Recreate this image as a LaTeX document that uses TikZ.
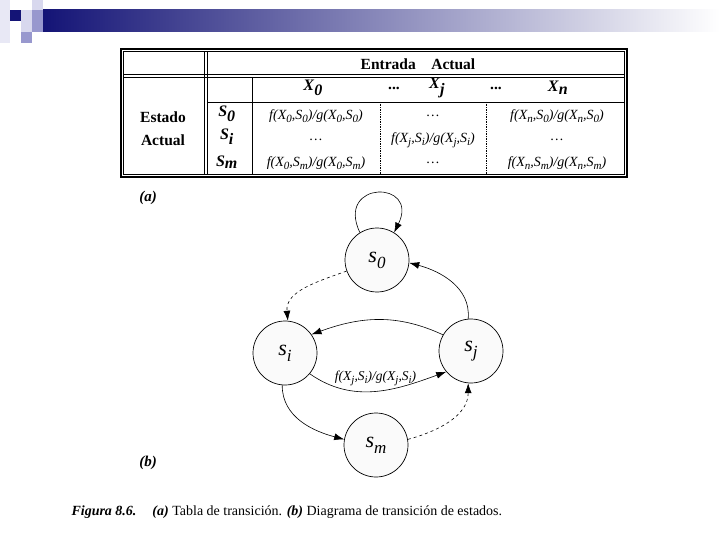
\documentclass[tikz,border=0pt]{standalone}
\usepackage{fontspec}
\setmainfont{Liberation Serif}
\usetikzlibrary{arrows.meta}
\definecolor{slnavy}{RGB}{20,20,118}
\definecolor{sllight}{RGB}{216,216,238}
\definecolor{slmid}{RGB}{152,152,206}
\newcommand{\ssub}[2]{\textit{#1}\raisebox{-6pt}{\fontsize{17}{17}\selectfont\textit{#2}}}
\newcommand{\bsub}[2]{\textbf{\textit{#1}}$_{\textbf{\textit{#2}}}$}
\newcommand{\entsub}[1]{\raisebox{-2.6pt}{\fontsize{11}{11}\selectfont #1}}

\tikzset{
  state/.style={circle, draw, line width=0.7pt, fill=gray!4, minimum size=64pt,
    inner sep=0pt, font=\fontsize{22}{24}\selectfont},
  trans/.style={-{Latex[length=10pt,width=7pt]}, line width=0.6pt},
  hdr/.style={font=\fontsize{15.5}{17}\selectfont\bfseries},
  xhdr/.style={font=\fontsize{16}{17}\selectfont},
  entry/.style={font=\fontsize{14}{15}\selectfont\itshape},
  tabline/.style={line width=0.7pt},
  frame/.style={line width=0.8pt},
}

\begin{document}
\begin{tikzpicture}[x=1pt,y=1pt]
      \fill[white] (0,0) rectangle (720,-540);
      \useasboundingbox (0,0) rectangle (720,-540);
      % slide decoration
      \shade[left color=slnavy, right color=white] (43,-10) rectangle (720,-32);
      \fill[sllight!60] (0,0) rectangle (10,-43);
      \fill[slnavy] (10,-10) rectangle (21,-21);
      \fill[sllight] (21,-10) rectangle (32,-21);
      \fill[sllight] (32,0) rectangle (43,-10);
      \fill[slmid] (32,-10) rectangle (43,-21);
      \fill[sllight] (21,-21) rectangle (32,-32);
      \fill[slmid] (32,-21) rectangle (43,-32);
      \fill[slmid] (21,-32) rectangle (32,-43);
      % (a) transition table
      \draw[frame, line width=1.2pt] (121,-49) -- (627,-49) -- (627,-177) -- (121,-177) -- cycle;
      \draw[frame] (123.5,-51.5) -- (624.5,-51.5) -- (624.5,-174.5) -- (123.5,-174.5) -- cycle;
      \draw[frame] (123.5,-74.5) -- (624.5,-74.5);
      \draw[frame] (123.5,-77) -- (624.5,-77);
      \draw[frame] (204.5,-51.5) -- (204.5,-174.5);
      \draw[frame] (207,-51.5) -- (207,-174.5);
      \draw[tabline] (252,-77) -- (252,-174.5);
      \draw[tabline] (207,-102) -- (624.5,-102);
      \draw[tabline, densely dotted] (380,-102) -- (380,-174.5);
      \draw[tabline, densely dotted] (486,-102) -- (486,-174.5);
      \node[hdr] (entrada) at (418,-64) {Entrada\quad Actual};
      \node[hdr] (estado) at (163,-117) {Estado};
      \node[hdr] (actual) at (163,-140) {Actual};
      \node[xhdr] (x0) at (313,-88) {\bsub{X}{0}};
      \node[hdr] (dots1) at (394,-88) {...};
      \node[xhdr] (xj) at (437,-88) {\bsub{X}{j}};
      \node[hdr] (dots2) at (496,-88) {...};
      \node[xhdr] (xn) at (558,-88) {\bsub{X}{n}};
      \node[xhdr] (r0) at (227,-114) {\bsub{S}{0}};
      \node[xhdr] (ri) at (227,-137) {\bsub{S}{i}};
      \node[xhdr] (rm) at (227,-162) {\bsub{S}{m}};
      \node[entry] (c00) at (316,-116) {f(X\entsub{0},S\entsub{0})/g(X\entsub{0},S\entsub{0})};
      \node[entry] (c01) at (433,-116) {\dots};
      \node[entry] (c02) at (557,-116) {f(X\entsub{n},S\entsub{0})/g(X\entsub{n},S\entsub{0})};
      \node[entry] (c10) at (316,-140) {\dots};
      \node[entry] (c11) at (433,-140) {f(X\entsub{j},S\entsub{i})/g(X\entsub{j},S\entsub{i})};
      \node[entry] (c12) at (557,-140) {\dots};
      \node[entry] (c20) at (316,-163) {f(X\entsub{0},S\entsub{m})/g(X\entsub{0},S\entsub{m})};
      \node[entry] (c21) at (433,-163) {\dots};
      \node[entry] (c22) at (557,-163) {f(X\entsub{n},S\entsub{m})/g(X\entsub{n},S\entsub{m})};
      \node[font=\fontsize{15}{16}\selectfont\bfseries\itshape] (la) at (148,-198) {(a)};
      % (b) state diagram
      \node[state] (s0) at (377,-260) {\ssub{s}{0}};
      \node[state] (si) at (285,-353) {\ssub{s}{i}};
      \node[state] (sj) at (471,-351) {\ssub{s}{j}};
      \node[state] (sm) at (376,-445) {\ssub{s}{m}};
      \draw[trans] (s0.122) .. controls (335,-180) and (420,-180) .. (s0.58);
      \draw[trans, dashed] (s0.200) to[out=200, in=95] (si.85);
      \draw[trans] (sj.95) to[out=85, in=-15] (s0.-5);
      \draw[trans] (sj.150) to[out=155, in=20] (si.35);
      \draw[trans] (si.-40) to[out=-35, in=-160]
        node[pos=0.5, above=2pt, font=\fontsize{13.5}{14}\selectfont\itshape]
        {f(X\entsub{j},S\entsub{i})/g(X\entsub{j},S\entsub{i})} (sj.-140);
      \draw[trans] (si.-95) to[out=-90, in=165] (sm.170);
      \draw[trans, dashed] (sm.10) to[out=15, in=-90] (sj.-95);
      \node[font=\fontsize{15}{16}\selectfont\bfseries\itshape] (lb) at (148,-463) {(b)};
      % caption
      \node[anchor=west, font=\fontsize{14}{16}\selectfont] (cap) at (68,-512)
        {\textbf{\textit{Figura 8.6.}}\hspace{16pt}\textbf{\textit{(a)}} Tabla de transición. \textbf{\textit{(b)}} Diagrama de transición de estados.};
    \end{tikzpicture}
\end{document}
